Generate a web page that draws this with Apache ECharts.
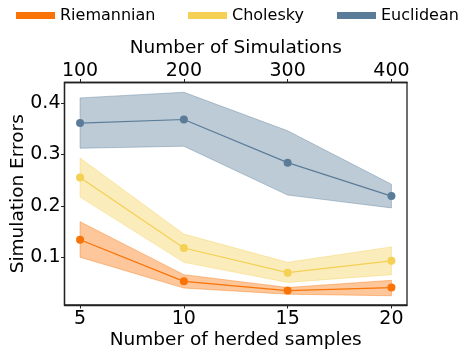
<!DOCTYPE html>
<html>
<head>
<meta charset="utf-8">
<script src="https://cdn.jsdelivr.net/npm/echarts@6/dist/echarts.min.js"></script>
<style>html,body{margin:0;padding:0;background:#fff}#c{width:459px;height:350px}</style>
</head>
<body>
<div id="c"></div>
<script>
// Data
const herdedSamples = [5, 10, 15, 20];
const simulationLabels = ['100', '200', '300', '400'];
const yTicks = [0.1, 0.2, 0.3, 0.4];
const methods = ['Riemannian', 'Cholesky', 'Euclidean'];

const riemannianMean  = [0.134, 0.053, 0.035, 0.041];
const riemannianLower = [0.100, 0.040, 0.028, 0.025];
const riemannianUpper = [0.169, 0.066, 0.041, 0.055];

const choleskyMean  = [0.255, 0.118, 0.070, 0.093];
const choleskyLower = [0.217, 0.090, 0.051, 0.066];
const choleskyUpper = [0.293, 0.145, 0.090, 0.120];

const euclideanMean  = [0.361, 0.368, 0.284, 0.219];
const euclideanLower = [0.312, 0.316, 0.221, 0.196];
const euclideanUpper = [0.410, 0.421, 0.346, 0.242];

const colors = ['#f97306', '#f4d054', '#5b7c99'];

const means = [riemannianMean, choleskyMean, euclideanMean];
const lowers = [riemannianLower, choleskyLower, euclideanLower];
const uppers = [riemannianUpper, choleskyUpper, euclideanUpper];

const FONT = 'DejaVu Sans';
const series = [];
methods.forEach((m, i) => {
  const rows = herdedSamples.map((x, k) => [x, lowers[i][k], uppers[i][k]]);
  series.push({
    name: m + '_band', type: 'custom', silent: true, z: 1,
    data: rows,
    encode: {x: 0, y: [1, 2]},
    renderItem: function (params, api) {
      if (params.dataIndex !== 0) return null;
      const top = rows.map(r => api.coord([r[0], r[2]]));
      const bot = rows.slice().reverse().map(r => api.coord([r[0], r[1]]));
      return {
        type: 'polygon',
        shape: {points: top.concat(bot)},
        style: {fill: colors[i], opacity: 0.4, stroke: colors[i], lineWidth: 1}
      };
    }
  });
});
methods.forEach((m, i) => {
  series.push({
    name: m, type: 'line', z: 3,
    symbol: 'circle', symbolSize: 8,
    data: herdedSamples.map((x, k) => [x, means[i][k]]),
    lineStyle: {color: colors[i], width: 1.2},
    itemStyle: {color: colors[i]}
  });
});

const legendLefts = [11, 183, 332];
const legends = methods.map((m, i) => ({
  data: [m], left: legendLefts[i], top: 2, icon: 'rect',
  itemWidth: 39, itemHeight: 7, itemGap: 0,
  textStyle: {fontFamily: FONT, fontSize: 16, color: '#000', lineHeight: 17},
  selectedMode: false
}));

const axisCommon = {
  axisLine: {show: true, lineStyle: {color: '#222', width: 1.3}},
  axisTick: {show: true, inside: false, length: 3.5, lineStyle: {color: '#222', width: 1}},
  splitLine: {show: false},
  nameMoveOverlap: false
};

const option = {
  animation: false,
  backgroundColor: '#fff',
  legend: legends,
  grid: {left: 64.5, right: 52, top: 82.5, bottom: 45, show: true, borderColor: '#222', borderWidth: 1.3,
    outerBoundsMode: 'none', containLabel: false},
  xAxis: [
    Object.assign({}, axisCommon, {
      type: 'value', position: 'bottom', min: 4.25, max: 20.75,
      axisTick: Object.assign({}, axisCommon.axisTick, {customValues: herdedSamples}),
      axisLabel: {customValues: herdedSamples, margin: 5, fontFamily: FONT, fontSize: 19, color: '#000'},
      name: 'Number of herded samples', nameLocation: 'middle', nameGap: 26,
      nameTextStyle: {fontFamily: FONT, fontSize: 18.5, color: '#000', verticalAlign: 'top'}
    }),
    Object.assign({}, axisCommon, {
      type: 'value', position: 'top', min: 4.25, max: 20.75,
      axisTick: Object.assign({}, axisCommon.axisTick, {customValues: herdedSamples}),
      axisLabel: {customValues: herdedSamples, margin: 2, fontFamily: FONT, fontSize: 19, color: '#000',
        formatter: v => simulationLabels[herdedSamples.indexOf(v)]},
      name: 'Number of Simulations', nameLocation: 'middle', nameGap: 25,
      nameTextStyle: {fontFamily: FONT, fontSize: 18.5, color: '#000', verticalAlign: 'bottom'}
    })
  ],
  yAxis: Object.assign({}, axisCommon, {
    type: 'value', min: 0.007, max: 0.44,
    axisTick: Object.assign({}, axisCommon.axisTick, {customValues: yTicks}),
    axisLabel: {customValues: yTicks, margin: 4, fontFamily: FONT, fontSize: 19, color: '#000',
      formatter: v => v.toFixed(1)},
    name: 'Simulation Errors', nameLocation: 'middle', nameGap: 37,
    nameTextStyle: {fontFamily: FONT, fontSize: 18.5, color: '#000'}
  }),
  series: series
};

const chart = echarts.init(document.getElementById('c'), null, {renderer: 'canvas'});
chart.setOption(option);
</script>
</body>
</html>
